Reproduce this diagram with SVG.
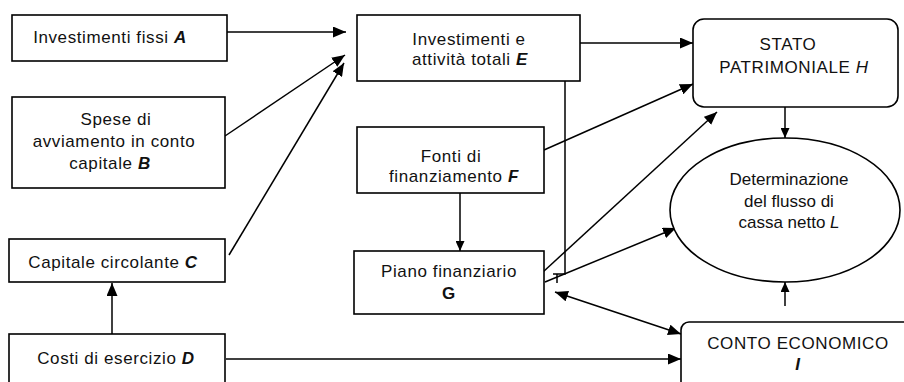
<svg xmlns="http://www.w3.org/2000/svg" width="904" height="382" viewBox="0 0 904 382">
<style>
.box{fill:#fff;stroke:#000;stroke-width:1.6}
.t{font-family:"Liberation Sans",Arial,sans-serif;font-size:17px;letter-spacing:0.6px;fill:#111;text-anchor:middle}
.tl{font-family:"Liberation Sans",Arial,sans-serif;font-size:17px;fill:#111;text-anchor:middle}
.v{font-style:italic;font-weight:bold}
.vi{font-style:italic}
.c{fill:none;stroke:#000;stroke-width:1.5}
</style>
<defs>
<marker id="ah" markerUnits="userSpaceOnUse" markerWidth="14" markerHeight="11" refX="13" refY="5.5" orient="auto-start-reverse"><path d="M0,0 L13,5.5 L0,11 z" fill="#000"/></marker>
<marker id="as" markerUnits="userSpaceOnUse" markerWidth="11" markerHeight="9" refX="10" refY="4.5" orient="auto"><path d="M0,0 L10,4.5 L0,9 z" fill="#000"/></marker>
</defs>
<g id="connectors">
<line class="c" x1="227" y1="32" x2="346" y2="32" marker-end="url(#ah)"/>
<line class="c" x1="225" y1="136" x2="345" y2="55" marker-end="url(#ah)"/>
<line class="c" x1="229" y1="255" x2="344" y2="63" marker-end="url(#ah)"/>
<line class="c" x1="112" y1="334" x2="112" y2="283" marker-end="url(#ah)"/>
<line class="c" x1="226" y1="359" x2="681" y2="359" marker-end="url(#ah)"/>
<line class="c" x1="580" y1="43" x2="693" y2="43" marker-end="url(#ah)"/>
<line class="c" x1="544" y1="150" x2="693" y2="84" marker-end="url(#ah)"/>
<line class="c" x1="543" y1="272" x2="717" y2="112" marker-end="url(#ah)"/>
<line class="c" x1="545" y1="282" x2="676" y2="228" marker-end="url(#ah)"/>
<line class="c" x1="555" y1="292" x2="681" y2="334" marker-start="url(#ah)" marker-end="url(#ah)"/>
<line class="c" x1="460" y1="193" x2="460" y2="251" marker-end="url(#as)"/>
<line class="c" x1="785" y1="107" x2="785" y2="138" marker-end="url(#as)"/>
<line class="c" x1="785" y1="306" x2="785" y2="282" marker-end="url(#as)"/>
<path class="c" d="M565,81 V274 H553 M557,274 V283"/>
</g>
<g id="nodeA">
<rect class="box" x="12" y="15" width="215" height="46"/>
<text class="t" x="110" y="43">Investimenti fissi <tspan class="v">A</tspan></text>
</g>
<g id="nodeB">
<rect class="box" x="12" y="97" width="213" height="91"/>
<text class="t" x="116" y="125">Spese di</text>
<text class="t" x="114" y="147">avviamento in conto</text>
<text class="t" x="110" y="169">capitale <tspan class="v">B</tspan></text>
</g>
<g id="nodeC">
<rect class="box" x="9" y="239" width="216" height="43"/>
<text class="t" x="113" y="268">Capitale circolante <tspan class="v">C</tspan></text>
</g>
<g id="nodeD">
<rect class="box" x="9" y="334" width="216" height="60"/>
<text class="t" x="116" y="364">Costi di esercizio <tspan class="v">D</tspan></text>
</g>
<g id="nodeE">
<rect class="box" x="357" y="15" width="223" height="66"/>
<text class="t" x="469" y="45">Investimenti e</text>
<text class="t" x="470" y="65">attività totali <tspan class="v">E</tspan></text>
</g>
<g id="nodeF">
<rect class="box" x="357" y="127" width="187" height="66"/>
<text class="t" x="451" y="162">Fonti di</text>
<text class="t" x="454" y="182">finanziamento <tspan class="v">F</tspan></text>
</g>
<g id="nodeG">
<rect class="box" x="354" y="251" width="190" height="63"/>
<text class="t" x="449" y="277">Piano finanziario</text>
<text class="t" x="449" y="299" font-weight="bold">G</text>
</g>
<g id="nodeH">
<rect class="box" x="693" y="19" width="205" height="88" rx="11"/>
<text class="t" x="788" y="50">STATO</text>
<text class="t" x="794" y="73">PATRIMONIALE <tspan class="vi">H</tspan></text>
</g>
<g id="nodeL">
<ellipse class="box" cx="785" cy="210" rx="115" ry="72"/>
<text class="tl" x="789" y="185">Determinazione</text>
<text class="tl" x="789" y="207">del flusso di</text>
<text class="tl" x="789" y="228">cassa netto <tspan class="vi">L</tspan></text>
</g>
<g id="nodeI">
<rect class="box" x="681" y="322" width="240" height="80" rx="8"/>
<text class="t" x="798" y="349">CONTO ECONOMICO</text>
<text class="t" x="798" y="370" font-style="italic" font-weight="bold">I</text>
</g>
</svg>
